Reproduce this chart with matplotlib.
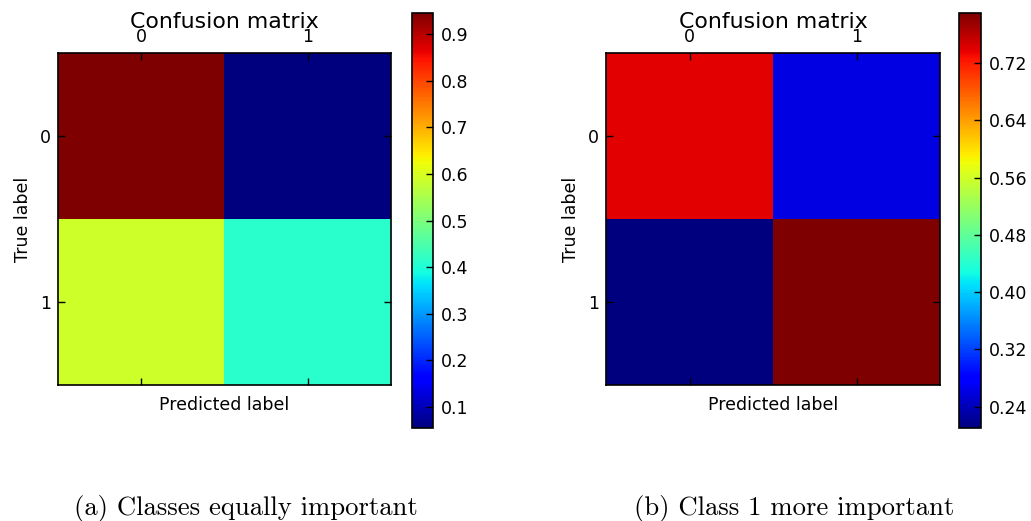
import numpy as np
import matplotlib
matplotlib.use("Agg")
import matplotlib.pyplot as plt

# --- data -------------------------------------------------------------------
class_labels = ["0", "1"]
cm_equal = [[0.945, 0.055],
            [0.59, 0.41]]
cm_weighted = [[0.74, 0.26],
               [0.21, 0.79]]
cbar_ticks_equal = [0.1, 0.2, 0.3, 0.4, 0.5, 0.6, 0.7, 0.8, 0.9]
cbar_ticks_weighted = [0.24, 0.32, 0.40, 0.48, 0.56, 0.64, 0.72]
captions = ["(a) Classes equally important", "(b) Class 1 more important"]

W, H = 1031, 521
fig = plt.figure(figsize=(W / 100, H / 100), dpi=100)


def px_box(x0, y0, x1, y1):
    """pixel box (top-left origin) -> figure fraction rect"""
    return [x0 / W, 1 - y1 / H, (x1 - x0) / W, (y1 - y0) / H]


def draw_matrix(mat, ticks, fmt, ax_box, cb_box):
    ax = fig.add_axes(px_box(*ax_box))
    cax = fig.add_axes(px_box(*cb_box))
    im = ax.imshow(np.array(mat), cmap="jet", interpolation="nearest",
                   aspect="auto")
    # fixed y -> no auto shift above the top tick labels
    ax.set_title("Confusion matrix", fontsize=15.8, y=1.0, pad=18)
    ax.set_xticks(range(len(class_labels)))
    ax.set_xticklabels(class_labels)
    ax.set_yticks(range(len(class_labels)))
    ax.set_yticklabels(class_labels)
    ax.tick_params(direction="in", length=5, width=1, labelsize=12.5,
                   top=True, bottom=True, left=True, right=True,
                   labeltop=True, labelbottom=False, pad=5)
    ax.set_xlabel("Predicted label", fontsize=12.5, labelpad=8)
    ax.set_ylabel("True label", fontsize=12.5, labelpad=6)
    for s in ax.spines.values():
        s.set_linewidth(1.2)

    cb = fig.colorbar(im, cax=cax)
    cb.set_ticks(ticks)
    cb.set_ticklabels([fmt.format(t) for t in ticks])
    cb.ax.tick_params(direction="in", length=5, width=1, labelsize=12.5,
                      pad=6)
    cb.outline.set_linewidth(1.2)
    return ax


draw_matrix(cm_equal, cbar_ticks_equal, "{:.1f}",
            (58, 53, 391, 385), (412, 13, 433, 428))
draw_matrix(cm_weighted, cbar_ticks_weighted, "{:.2f}",
            (606, 53, 940, 385), (959, 13, 981, 428))

fig.text(246 / W, 1 - 508 / H, captions[0], ha="center", va="center",
         family="cmr10", fontsize=19.2)
fig.text(794 / W, 1 - 508 / H, captions[1], ha="center", va="center",
         family="cmr10", fontsize=19.2)

fig.savefig("out.png", dpi=100)
